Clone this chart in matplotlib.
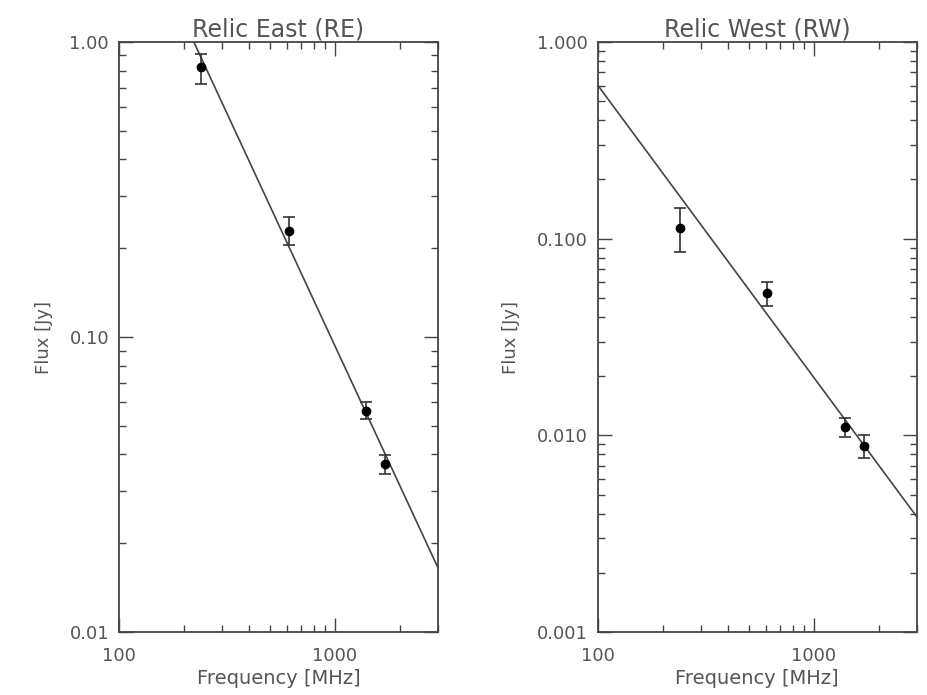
import numpy as np
import matplotlib
matplotlib.use('Agg')
import matplotlib.pyplot as plt
from matplotlib.ticker import FixedLocator, FixedFormatter, LogLocator, NullFormatter

freq = [240, 610, 1400, 1714]

re_flux = [0.82, 0.229, 0.0561, 0.0371]
re_err_lo = [0.10, 0.024, 0.0034, 0.0028]
re_err_hi = [0.09, 0.026, 0.0039, 0.0027]

rw_flux = [0.113, 0.0529, 0.0110, 0.0088]
rw_err_lo = [0.0274, 0.0074, 0.0012, 0.0011]
rw_err_hi = [0.030, 0.0073, 0.0012, 0.0012]

# power-law fit lines, endpoints at 100 and 3000 MHz
fit_x = [100, 3000]
re_fit = [3.53, 0.0165]
rw_fit = [0.604, 0.00385]

panels = [
    ('Relic East (RE)', re_flux, re_err_lo, re_err_hi, re_fit,
     [1.0, 0.1, 0.01], ['1.00', '0.10', '0.01'], (0.01, 1.0)),
    ('Relic West (RW)', rw_flux, rw_err_lo, rw_err_hi, rw_fit,
     [1.0, 0.1, 0.01, 0.001], ['1.000', '0.100', '0.010', '0.001'], (0.001, 1.0)),
]

txt = '#555555'
fig = plt.figure(figsize=(9.28, 6.95), dpi=100)
lefts = [0.128, 0.644]

for left, (title, flux, lo, hi, fit, yt, ytl, ylim) in zip(lefts, panels):
    ax = fig.add_axes([left, 0.0906, 0.344, 0.849])
    ax.set_xscale('log')
    ax.set_yscale('log')
    ax.plot(fit_x, fit, color='#444444', lw=1.2)
    ax.errorbar(freq, flux, yerr=[lo, hi], fmt='o', color='black', ms=6,
                ecolor='#333333', elinewidth=1.2, capsize=4, capthick=1.2)
    ax.set_xlim(100, 3000)
    ax.set_ylim(*ylim)

    ax.xaxis.set_major_locator(FixedLocator([100, 1000]))
    ax.xaxis.set_major_formatter(FixedFormatter(['100', '1000']))
    ax.xaxis.set_minor_locator(LogLocator(base=10, subs=np.arange(2, 10)))
    ax.xaxis.set_minor_formatter(NullFormatter())
    ax.yaxis.set_major_locator(FixedLocator(yt))
    ax.yaxis.set_major_formatter(FixedFormatter(ytl))
    ax.yaxis.set_minor_locator(LogLocator(base=10, subs=np.arange(2, 10)))
    ax.yaxis.set_minor_formatter(NullFormatter())

    ax.tick_params(which='both', direction='in', top=True, right=True,
                   color='#444444', width=1.0, labelcolor=txt, labelsize=13)
    ax.tick_params(which='major', length=10)
    ax.tick_params(which='minor', length=5)
    ax.tick_params(axis='x', pad=11)
    ax.tick_params(axis='y', pad=7)
    for s in ax.spines.values():
        s.set_color('#444444')
        s.set_linewidth(1.3)

    ax.set_title(title, color=txt, fontsize=17, pad=1)
    ax.set_xlabel('Frequency [MHz]', color=txt, fontsize=14, labelpad=3)
    ax.set_ylabel('Flux [Jy]', color=txt, fontsize=13, labelpad=12)

fig.savefig('out.png', dpi=100)
